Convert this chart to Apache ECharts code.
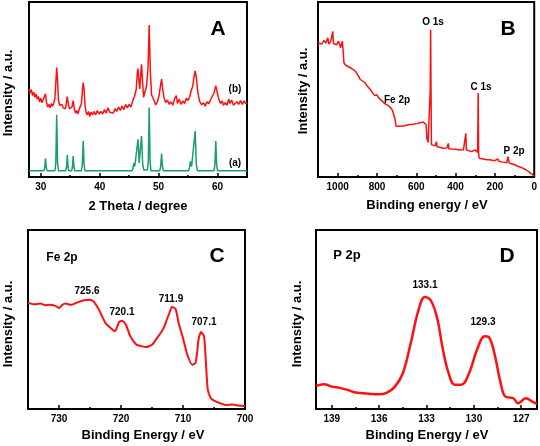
<!DOCTYPE html>
<html><head><meta charset="utf-8">
<script src="https://cdn.jsdelivr.net/npm/echarts@6/dist/echarts.min.js"></script>
<style>html,body{margin:0;padding:0;background:#fff}#c{width:540px;height:446px}</style>
</head><body><div id="c"></div>
<script>
// ---- Panel A: XRD (2 theta, relative intensity) ----
const xrdStandard = [[28,3.6],[30.5,3.6],[30.65,5],[30.8,10.7],[30.95,5],[31.1,3.6],
 [32.4,3.6],[32.55,8],[32.7,35.6],[32.85,8],[33.0,3.6],
 [34.25,3.6],[34.38,6],[34.5,12.6],[34.62,6],[34.75,3.6],
 [35.25,3.6],[35.38,6],[35.5,11.9],[35.62,6],[35.75,3.6],
 [36.9,3.6],[37.05,7],[37.2,20.5],[37.35,7],[37.5,3.6],
 [45.5,3.6],[45.65,5],[45.8,7.9],[45.95,6],[46.25,6.5],[46.5,21.5],[46.7,8],[46.85,9],[47.1,23.4],[47.3,7],[47.5,4],[48.1,4],[48.25,9],[48.4,39.7],[48.55,9],[48.7,3.6],
 [50.2,3.6],[50.35,6],[50.5,13.4],[50.65,6],[50.8,3.6],
 [55.1,3.6],[55.25,5.5],[55.4,8.9],[55.6,6],[55.9,6.5],[56.2,26.2],[56.4,7],[56.6,3.6],
 [59.4,3.6],[59.55,7],[59.7,20.5],[59.85,7],[60.0,3.6],
 [63.6,3.6],[63.8,4.7],[64.0,3.6],[65,3.6]];
const xrdSample = [[28,50.3],[28.2,48],[28.4,50],[28.6,46.5],[28.8,48.5],[29,45.5],[29.2,47.5],[29.4,44.5],[29.6,46],[29.8,43],[30,45],[30.2,42.5],[30.4,44],[30.6,43],[30.8,47.5],[31,42],[31.2,40],[31.4,41.5],[31.6,39.5],[31.8,42],[32,40.5],[32.2,42],[32.4,45],[32.6,57],[32.7,62.5],[32.8,58],[33,44],[33.2,41],[33.4,40],[33.6,41.5],[33.8,39.5],[34,40.5],[34.2,39],[34.4,44],[34.5,46],[34.7,41],[34.9,39],[35.1,38.5],[35.3,40],[35.5,43.7],[35.7,39],[35.9,36.5],[36.1,38],[36.3,36],[36.5,38.5],[36.7,38],[36.9,42],[37.1,51],[37.2,54],[37.35,50],[37.5,41],[37.7,37],[37.9,35.5],[38.1,37.5],[38.3,34.5],[38.5,37],[38.8,35.5],[39,37.5],[39.3,35.5],[39.6,38],[39.9,36],[40.2,37.5],[40.5,36],[40.8,38.5],[41.1,36.5],[41.4,39.5],[41.7,37],[42,38],[42.3,36.5],[42.6,39],[42.9,37.5],[43.2,40],[43.5,38],[43.8,40.5],[44.1,38.5],[44.4,41.5],[44.7,39.5],[45,41.5],[45.3,40],[45.6,43.5],[45.9,46],[46.2,50],[46.4,60],[46.5,62],[46.65,55],[46.8,50.3],[46.95,58],[47.1,64.4],[47.25,56],[47.45,45.6],[47.7,46],[47.95,52],[48.2,62],[48.4,86.8],[48.6,60],[48.8,47],[49,46.5],[49.2,44],[49.5,41.2],[49.8,43],[50.1,47],[50.35,53],[50.5,55.9],[50.7,50],[50.9,45.6],[51.2,42.5],[51.5,44],[51.8,41.5],[52.1,43],[52.4,41],[52.7,44.5],[53,46.5],[53.2,42],[53.5,44.5],[53.8,41.5],[54.1,43.5],[54.4,42],[54.7,45],[55,43.7],[55.3,46],[55.5,49],[55.8,52],[56,57],[56.2,60.6],[56.4,57],[56.6,50],[56.8,45.6],[57,43],[57.3,41.2],[57.6,42.5],[57.9,40.5],[58.2,43],[58.5,41.8],[58.8,44],[59.1,45],[59.4,48],[59.7,52.2],[59.9,49],[60.2,44.6],[60.5,42],[60.8,43.5],[61,40.9],[61.3,42.5],[61.6,41],[61.9,44.5],[62.1,42],[62.4,44],[62.7,41],[63,40.9],[63.3,43],[63.6,41.5],[63.9,43.7],[64.2,41.5],[64.5,43.5],[64.8,42],[65,42.7]];
const xrdTicks = [30,40,50,60];
const xrdMinor = [35,45,55];

// ---- Panel B: XPS survey ----
const survey = [[1100,76.6],[1090,77.5],[1080,76],[1070,78],[1060,76.5],[1050,79.5],[1045,76],[1035,77.5],[1028,76.5],[1025,83.2],[1021,76.3],[1012,77],[1005,75.5],[997,77.6],[990,76],[985,73.8],[980,76],[976,77.6],[972,72],[968,65.3],[960,64],[955,63.5],[945,63],[935,62.5],[929,62],[920,61.5],[910,60.5],[900,60],[893,57.5],[887,56],[875,55],[862,54],[850,52],[836,50.3],[825,48.5],[815,47.5],[811,46.5],[800,47],[794,45.6],[785,45],[775,43.5],[769,42.7],[755,41.5],[743,40.9],[730,39.5],[721,38],[712,37.5],[708,33],[703,29],[695,28.6],[680,29],[667,29.2],[650,29.6],[633,30],[615,30.2],[599,30.5],[580,31],[565,31.4],[555,31],[550,30],[546,22],[540,19.8],[534,19.2],[530,19],[529,50],[527,84.2],[525,50],[523,18.5],[515,18],[505,17.8],[499,17.3],[497,20.2],[495,17.3],[480,17],[465,16.4],[445,16.5],[437,19.2],[434,16.2],[420,16],[400,15.8],[380,15.4],[360,15.5],[350,16],[348,24.9],[345,15.6],[335,15.2],[320,14.5],[313,14.5],[300,15.4],[295,15],[288,14],[285,48],[283,14],[280,10.7],[260,10.3],[240,9.9],[228,9.8],[200,9.3],[190,9],[186,10.4],[180,9],[160,8.5],[140,8.2],[133,11.7],[128,8],[123,7.9],[100,7],[80,6],[59,5.1],[40,4],[25,2.8],[8,1.3],[0,0.4]];
const surveyTicks = [1000,800,600,400,200,0];
const surveyMinor = [900,700,500,300,100];

// ---- Panel C: Fe 2p ----
const fe2p = [[735,59.3],[734,58.5],[733,58.9],[732.2,58],[731.5,58.3],[730.5,57.5],[730,56.4],[729.5,58],[729,58.9],[728,58.2],[727,59.6],[726,60.7],[725,61.1],[724.3,59.6],[723.5,55.1],[722.5,48],[721.5,44.7],[721,43.4],[720.6,46],[720.3,48.6],[719.8,49.3],[719.2,47.1],[718.5,40.6],[717.5,35.9],[716.8,35.2],[716,34.6],[715,35.9],[714,40.6],[713.5,43],[713,46.2],[712.6,50],[712.2,53.6],[711.8,57],[711.2,55.9],[710.7,48],[710,39.6],[709.3,30.3],[708.5,24.7],[708,25.6],[707.7,32],[707.5,38.7],[707.1,43],[706.6,40.6],[706.3,25.6],[706,10.7],[705.5,6],[705,4.7],[704.2,3.5],[703,2.2],[702,2.5],[701,1.9],[700,1.7]];
const feTicks = [730,720,710,700];
const feMinor = [725,715,705];

// ---- Panel D: P 2p ----
const p2p = [[140,12.9],[139.5,13.8],[139,12.5],[138.5,11.8],[138,10.7],[137.5,9.2],[137,8.8],[136.5,8.4],[136,8.2],[135.5,9.2],[135,12.5],[134.5,20],[134,36.8],[133.5,55.5],[133.1,62.6],[132.7,60.2],[132.3,49.9],[132,35],[131.6,20],[131.2,13.5],[130.8,13.5],[130.3,20],[129.8,33.1],[129.3,40.6],[129,39.6],[128.7,31.2],[128.3,14.4],[128,6.9],[127.5,6],[127.2,3.2],[126.7,6],[126.3,4.1],[126,2.8]];
const pTicks = [139,136,133,130,127];
const pMinor = [137.5,134.5,131.5,128.5];

const FONT = '"Liberation Sans", Arial, Helvetica, sans-serif';
const RED = '#ff1010';
const GREEN = '#1a9e6c';

const gridBoxes = [
  {left:29, top:2, width:218, height:175},
  {left:318, top:2, width:217, height:175},
  {left:28, top:230, width:217, height:179},
  {left:316, top:230, width:221, height:179}
];
const grid = gridBoxes.map(g => Object.assign({show:true, borderColor:'#000', borderWidth:2, backgroundColor:'transparent'}, g));

function mainX(gi, min, max, inverse, ticks) {
  return {type:'value', gridIndex:gi, min:min, max:max, inverse:inverse,
    axisLine:{show:false}, splitLine:{show:false},
    axisTick:{show:true, inside:true, length:4, lineStyle:{color:'#000', width:1.5}, customValues:ticks},
    axisLabel:{show:true, customValues:ticks, formatter:function(v){return String(v);}, color:'#000', fontWeight:'bold', fontSize:10, fontFamily:FONT, margin:5}};
}
function minorX(gi, min, max, inverse, ticks) {
  return {type:'value', gridIndex:gi, min:min, max:max, inverse:inverse, position:'bottom',
    axisLine:{show:false}, splitLine:{show:false},
    axisTick:{show:true, inside:true, length:2, lineStyle:{color:'#000', width:1.5}, customValues:ticks},
    axisLabel:{show:false}};
}
const xAxis = [
  mainX(0,28,65,false,xrdTicks), minorX(0,28,65,false,xrdMinor),
  mainX(1,0,1100,true,surveyTicks), minorX(1,0,1100,true,surveyMinor),
  mainX(2,700,735,true,feTicks), minorX(2,700,735,true,feMinor),
  mainX(3,126,140,true,pTicks), minorX(3,126,140,true,pMinor)
];
const yAxis = [0,1,2,3].map(i => ({type:'value', gridIndex:i, min:0, max:100, show:false}));

function line(data, xi, yi, color, width, smooth) {
  return {type:'line', data:data, xAxisIndex:xi, yAxisIndex:yi, showSymbol:false, symbol:'none',
    smooth:smooth||false, lineStyle:{color:color, width:width}, animation:false, silent:true};
}
const series = [
  line(xrdStandard,0,0,GREEN,1.5),
  line(xrdSample,0,0,RED,1.5),
  line(survey,2,1,RED,1.5),
  line(fe2p,4,2,RED,2,0.2),
  line(p2p,6,3,RED,2.5,0.4)
];

function txt(t, x, y, size, rot) {
  return {type:'text', x:x, y:y, rotation:rot||0, silent:true,
    style:{text:t, fill:'#000', font:'bold '+size+'px '+FONT, textAlign:'center', textVerticalAlign:'middle'}};
}
const R = Math.PI/2;
const graphic = [
  txt('A',218,29,21), txt('B',508,29,21), txt('C',217,256,21), txt('D',507,256,21),
  txt('(b)',235,89,10), txt('(a)',235,163,10),
  txt('O 1s',433,22,10), txt('C 1s',481,87,10), txt('Fe 2p',397,100,10), txt('P 2p',514,151,10),
  txt('Fe 2p',62,258,12), txt('725.6',87,291,10), txt('720.1',122,312,10), txt('711.9',171,299,10), txt('707.1',204,322,10),
  txt('P 2p',347,255,13), txt('133.1',425,285,10), txt('129.3',483,322,10),
  txt('2 Theta / degree',138,206,13), txt('Binding energy / eV',427,205,13),
  txt('Binding Energy / eV',143,435,13), txt('Binding Energy / eV',427,435,13),
  txt('Intensity / a.u.',8,93,13,R), txt('Intensity / a.u.',303,91,13,R),
  txt('Intensity / a.u.',8,324,13,R), txt('Intensity / a.u.',297,324,13,R)
];

const chart = echarts.init(document.getElementById('c'), null, {renderer:'canvas'});
chart.setOption({animation:false, backgroundColor:'#fff', grid:grid, xAxis:xAxis, yAxis:yAxis, series:series, graphic:graphic});
</script></body></html>
